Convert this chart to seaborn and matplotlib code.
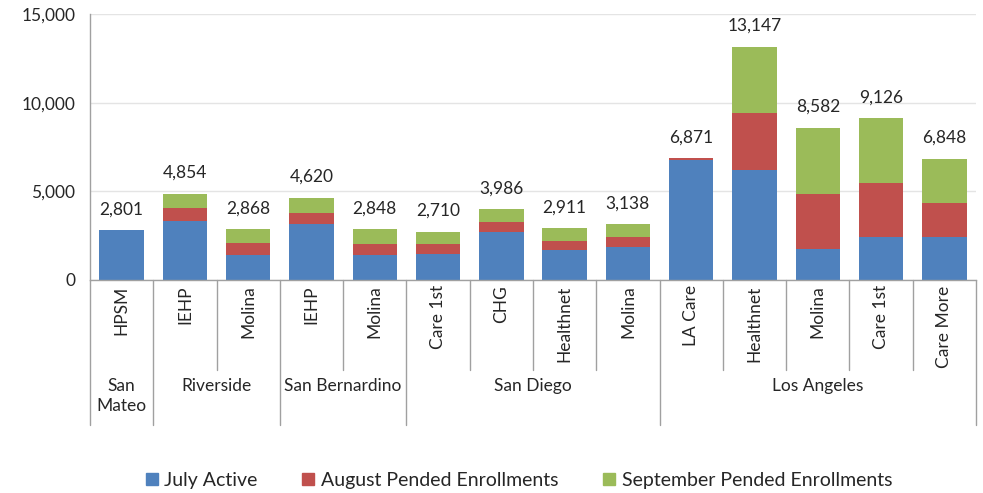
import numpy as np
import pandas as pd
from matplotlib import pyplot as plt
from matplotlib.patches import Patch
import seaborn as sns

plans = ["HPSM", "IEHP", "Molina", "IEHP", "Molina", "Care 1st", "CHG",
         "Healthnet", "Molina", "LA Care", "Healthnet", "Molina", "Care 1st", "Care More"]
counties = ["San\nMateo", "Riverside", "San Bernardino", "San Diego", "Los Angeles"]
county_sizes = [1, 2, 2, 4, 5]

july = [2801, 3326, 1410, 3170, 1410, 1480, 2710, 1710, 1860, 6780, 6220, 1750, 2420, 2420]
august = [0, 733, 680, 600, 620, 550, 560, 490, 560, 91, 3190, 3100, 3050, 1920]
september = [0, 795, 778, 850, 818, 680, 716, 711, 718, 0, 3737, 3732, 3656, 2508]
totals = [2801, 4854, 2868, 4620, 2848, 2710, 3986, 2911, 3138, 6871, 13147, 8582, 9126, 6848]

series = ["July Active", "August Pended Enrollments", "September Pended Enrollments"]
colors = ["#4F81BD", "#C0504D", "#9BBB59"]

sns.set_style("white")
plt.rcParams["font.family"] = ["Lato", "DejaVu Sans"]

df = pd.DataFrame({"slot": [str(i) for i in range(len(plans))],
                   "july": july, "august": august, "september": september})
df["jul_aug"] = df["july"] + df["august"]
df["all3"] = df["jul_aug"] + df["september"]

fig = plt.figure(figsize=(9.83, 4.93), dpi=100)
ax = fig.add_axes([90 / 983, 213 / 493, 886 / 983, 266 / 493])

# stacked bars drawn as cumulative layers
for col, c in zip(["all3", "jul_aug", "july"], colors[::-1]):
    sns.barplot(data=df, x="slot", y=col, color=c, saturation=1, width=0.7,
                linewidth=0, edgecolor="none", ax=ax)

ax.set_ylim(0, 15000)
ax.set_xlim(-0.5, len(plans) - 0.5)
ax.set_yticks([0, 5000, 10000, 15000])
ax.set_yticklabels([f"{v:,}" for v in [0, 5000, 10000, 15000]], fontsize=12.5)
ax.yaxis.grid(True, color="#E4E4E4", linewidth=1)
ax.set_axisbelow(True)
ax.tick_params(axis="y", length=4.5, color="#A0A0A0", pad=6)
ax.set_xticks([])
ax.set_xlabel("")
ax.set_ylabel("")
sns.despine(ax=ax, top=True, right=True)
for s in ["left", "bottom"]:
    ax.spines[s].set_color("#A0A0A0")
    ax.spines[s].set_linewidth(1)

for i, t in enumerate(totals):
    ax.annotate(f"{t:,}", (i, t), xytext=(0, 11.5), textcoords="offset points",
                ha="center", va="baseline", fontsize=12.5)

# table-style category axis
tr = ax.get_xaxis_transform()
for i, p in enumerate(plans):
    ax.text(i, -0.02, p, transform=tr, rotation=90, ha="center", va="top", fontsize=12.5)

edges = np.cumsum([0] + county_sizes) - 0.5
for b in np.arange(-0.5, len(plans)):
    low = -0.545 if np.isclose(edges, b).any() else -0.338
    ax.plot([b, b], [0, low], transform=tr, color="#A0A0A0", lw=1, clip_on=False)

for c, n, start in zip(counties, county_sizes, edges[:-1]):
    ax.text(start + n / 2, -0.37, c, transform=tr, ha="center", va="top",
            fontsize=12.5, linespacing=1.25)

handles = [Patch(color=c) for c in colors]
fig.legend(handles, series, loc="center", bbox_to_anchor=(0.528, 0.025), ncol=3,
           frameon=False, fontsize=14, handlelength=0.6, handleheight=0.6,
           handletextpad=0.35, columnspacing=2.3)

fig.savefig("out.png", dpi=100)
